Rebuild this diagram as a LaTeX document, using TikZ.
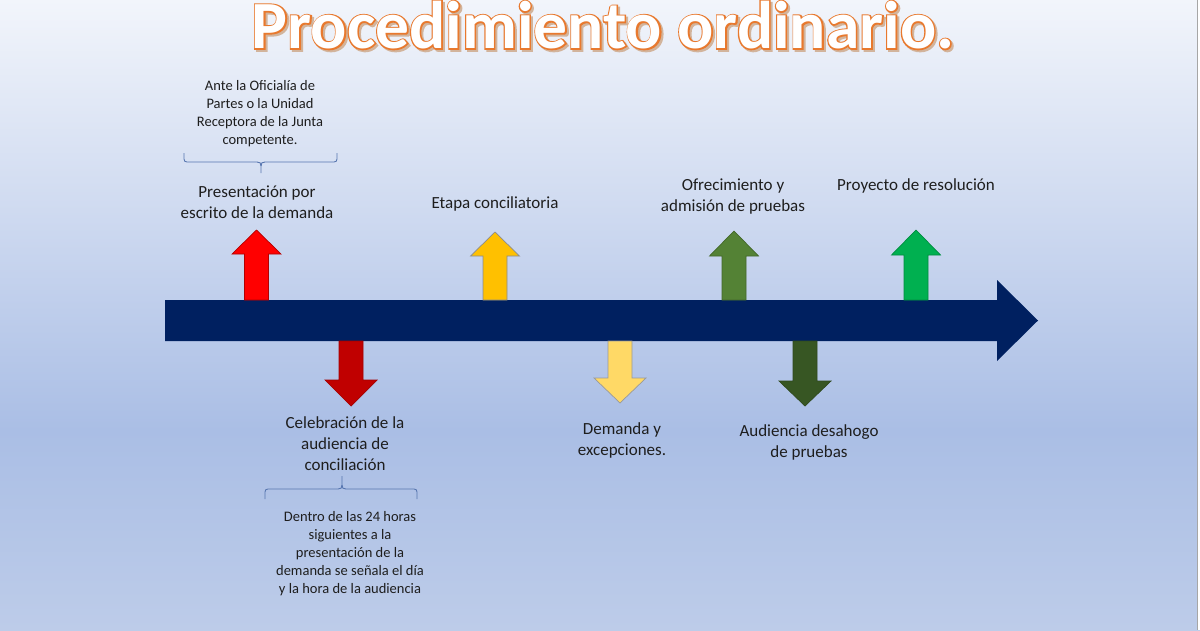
\documentclass[tikz,border=0pt]{standalone}
\usepackage{fontspec}
\setmainfont{Carlito}
\newfontfamily\ttlstroke{Carlito Bold}[FakeBold=4]
\newfontfamily\ttlplain{Carlito Bold}
\usetikzlibrary{calc}
\definecolor{bgtop}{HTML}{F2F5FB}
\definecolor{bgmid}{HTML}{AABEE5}
\definecolor{bgbot}{HTML}{BDCCE9}
\definecolor{navy}{HTML}{002060}
\definecolor{cred}{HTML}{FF0000}
\definecolor{cdred}{HTML}{C00000}
\definecolor{cyel}{HTML}{FFC000}
\definecolor{clyel}{HTML}{FFD966}
\definecolor{colive}{HTML}{548235}
\definecolor{cdgreen}{HTML}{375623}
\definecolor{cgreen}{HTML}{00B050}
\definecolor{corange}{HTML}{E8792E}
\definecolor{cshadow}{HTML}{D2B49C}
\definecolor{cbrace}{HTML}{5776AF}
\definecolor{ctext}{HTML}{1E1E1E}
\tikzset{
  lbl/.style={font=\fontsize{17}{21}\selectfont, align=center, text=ctext, inner sep=0pt},
  smalllbl/.style={font=\fontsize{14.5}{18}\selectfont, align=center, text=ctext, inner sep=0pt},
  bracestyle/.style={draw=cbrace, line width=0.9pt},
  arrowshape/.style={line width=0.7pt, line join=miter},
  ttl/.style={inner sep=0pt, anchor=base, text height=44pt, text depth=14pt},
}
\newcommand{\uparr}[5]{%
  \filldraw[arrowshape, fill=#4, draw=#5]
    (#1-12,300) -- (#1-12,#3) -- (#1-24.5,#3) -- (#1,#2) -- (#1+24.5,#3) -- (#1+12,#3) -- (#1+12,300) -- cycle;}
\newcommand{\downarr}[5]{%
  \filldraw[arrowshape, fill=#4, draw=#5]
    (#1-12,341) -- (#1-12,#3) -- (#1-26,#3) -- (#1,#2) -- (#1+26,#3) -- (#1+12,#3) -- (#1+12,341) -- cycle;}
\newcommand{\ttltext}{Procedimiento ordinario.}
\begin{document}
\begin{tikzpicture}[x=1pt,y=-1pt]
\useasboundingbox (0,0) rectangle (1200,630);
% background
\shade[top color=bgtop, bottom color=bgmid] (0,0) rectangle (1200,430);
\shade[top color=bgmid, bottom color=bgbot] (0,430) rectangle (1200,630);
\fill[white] (1197.5,0) rectangle (1200,630);
\draw[gray!70, line width=0.8pt] (1197,0) -- (1197,630);

% title: shadow, orange outline, white fill
\coordinate (ttlpos) at (603,48.5);
\node[ttl, text=cshadow, font=\ttlstroke\fontsize{67.5}{70}\selectfont] (titleshadow) at ($(ttlpos)+(2,2)$) {\ttltext};
\node[ttl, text=corange, font=\ttlstroke\fontsize{67.5}{70}\selectfont] (titleoutline) at (ttlpos) {\ttltext};
\node[ttl, text=white, font=\ttlplain\fontsize{67.5}{70}\selectfont] (title) at (ttlpos) {\ttltext};

% main timeline arrow
\fill[navy] (165,300) -- (997,300) -- (997,280) -- (1038,320.5) -- (997,361) -- (997,341) -- (165,341) -- cycle;

% up arrows
\uparr{256.5}{230}{254}{cred}{red!70!black}
\uparr{495}{232}{256}{cyel}{black!45}
\uparr{734}{231}{256}{colive}{colive!80!black}
\uparr{916}{230}{255}{cgreen}{cgreen!80!black}
% down arrows
\downarr{351}{406}{380}{cdred}{cdred!85!black}
\downarr{620}{403}{378}{clyel}{black!40}
\downarr{805}{406}{381}{cdgreen}{cdgreen!85!black}

% labels
\node[smalllbl] (ante) at (260,114) {Ante la Oficialía de\\Partes o la Unidad\\Receptora de la Junta\\competente.};
\node[lbl] (pres) at (257,202) {Presentación por\\escrito de la demanda};
\node[lbl] (etapa) at (495,204) {Etapa conciliatoria};
\node[lbl] (ofre) at (733,197) {Ofrecimiento y\\admisión de pruebas};
\node[lbl] (proy) at (916,186) {Proyecto de resolución};
\node[lbl] (cele) at (345,444) {Celebración de la\\audiencia de\\conciliación};
\node[lbl] (dem) at (622,440) {Demanda y\\excepciones.};
\node[lbl] (aud) at (809,442) {Audiencia desahogo\\de pruebas};
\node[smalllbl] (dentro) at (350,554) {Dentro de las 24 horas\\siguientes a la\\presentación de la\\demanda se señala el día\\y la hora de la audiencia};

% braces
\draw[bracestyle] (184,153) -- (184,159) .. controls (184,161) and (185,162) .. (187,162)
  -- (257,162) .. controls (260,162) and (261,163) .. (261,166) -- (261,173);
\draw[bracestyle] (337,153) -- (337,159) .. controls (337,161) and (336,162) .. (334,162)
  -- (265,162) .. controls (262,162) and (261,163) .. (261,166);
\draw[bracestyle] (265,499) -- (265,492) .. controls (265,490) and (266,489) .. (268,489)
  -- (338,489) .. controls (341,489) and (342,488) .. (342,485) -- (342,476);
\draw[bracestyle] (417,499) -- (417,492) .. controls (417,490) and (416,489) .. (414,489)
  -- (346,489) .. controls (343,489) and (342,488) .. (342,485);
\end{tikzpicture}
\end{document}
